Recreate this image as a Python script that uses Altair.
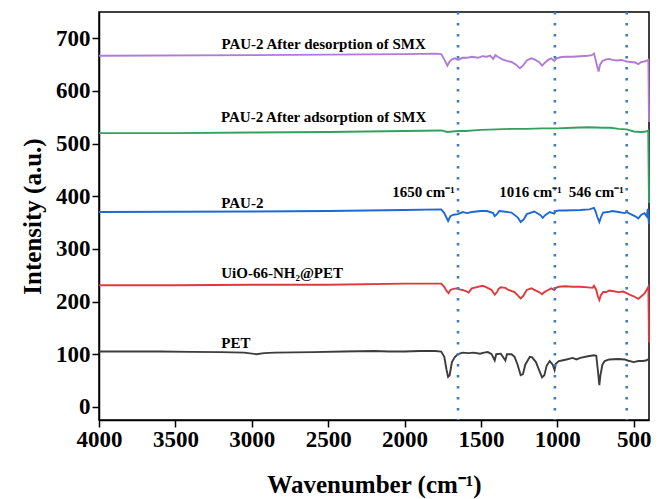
import altair as alt
import pandas as pd

# ---------------- data ----------------
wn_pet = [4000, 3800, 3600, 3400, 3200, 3050, 2970, 2920, 2850, 2600, 2400, 2200, 2100, 2000, 1900, 1800,
          1760, 1740, 1725, 1715, 1705, 1690, 1670, 1650, 1620, 1580, 1550, 1505, 1480, 1455, 1430, 1410,
          1400, 1370, 1340, 1330, 1300, 1280, 1260, 1240, 1225, 1210, 1180, 1165, 1140, 1120, 1100, 1085,
          1070, 1050, 1030, 1018, 1010, 990, 970, 940, 900, 875, 850, 800, 760, 745, 735, 725, 718, 705,
          690, 660, 600, 560, 540, 500, 470, 440, 420, 400]
int_pet = [105, 105, 105, 104.5, 104, 103, 100, 102, 103, 104, 105, 106, 105, 105, 106, 106,
           105, 95, 70, 57, 60, 85, 95, 100, 103, 102, 103, 101, 103, 104, 100, 88,
           100, 101, 88, 100, 100, 95, 80, 60, 62, 80, 95, 94, 85, 70, 56, 60,
           78, 87, 80, 70, 82, 87, 88, 90, 93, 90, 93, 96, 98, 97, 70, 41, 60, 80,
           87, 90, 91, 90, 88, 85, 87, 87, 88, 91]

wn_uio = [4000, 3500, 3000, 2500, 2000, 1760, 1740, 1725, 1712, 1700, 1680, 1660, 1640, 1620, 1600, 1580,
          1560, 1520, 1490, 1470, 1450, 1430, 1410, 1395, 1385, 1370, 1340, 1320, 1280, 1250, 1240, 1225,
          1200, 1170, 1150, 1120, 1100, 1085, 1060, 1040, 1020, 1010, 990, 950, 900, 850, 800, 770, 760,
          745, 735, 725, 715, 700, 680, 660, 640, 600, 570, 546, 520, 500, 470, 450, 430, 410, 404, 400]
int_uio = [231, 231, 232, 232, 234, 234, 228, 220, 216, 222, 224, 225, 223, 222, 220, 217,
           225, 228, 230, 228, 225, 222, 213, 218, 224, 227, 226, 222, 218, 209, 206, 210,
           222, 225, 222, 218, 214, 218, 222, 225, 222, 226, 228, 229, 228, 228, 227, 226, 230,
           222, 210, 203, 212, 218, 218, 221, 220, 218, 219, 216, 212, 210, 205, 210, 215, 225, 228, 122]

wn_pau = [4000, 3000, 2500, 2000, 1760, 1740, 1715, 1700, 1680, 1650, 1620, 1590, 1560, 1500, 1460, 1420,
          1410, 1395, 1380, 1350, 1300, 1260, 1240, 1220, 1200, 1150, 1110, 1095, 1080, 1050, 1020, 1010,
          990, 950, 850, 790, 760, 748, 740, 725, 712, 700, 670, 640, 600, 560, 546, 520, 490, 470, 450,
          430, 415, 408, 404, 400]
int_pau = [370, 371, 372, 374, 375, 368, 353, 362, 365, 366, 370, 368, 370, 372, 372, 368,
           362, 366, 372, 371, 369, 360, 351, 356, 366, 371, 364, 359, 364, 370, 367, 372,
           373, 373, 374, 375, 378, 370, 362, 351, 362, 369, 370, 372, 370, 368, 370, 366, 362, 358, 365,
           368, 362, 376, 360, 347]

wn_ads = [4000, 3500, 3000, 2500, 2000, 1760, 1720, 1650, 1600, 1500, 1400, 1300, 1200, 1100, 1000, 900,
          800, 700, 650, 600, 546, 500, 450, 420, 405, 400]
int_ads = [520, 520, 521, 522, 524, 525, 522, 524, 524, 526, 527, 528, 528, 529, 529, 530,
           531, 530, 530, 528, 527, 523, 522, 523, 525, 387]

wn_des = [4000, 3000, 2500, 2000, 1800, 1760, 1740, 1720, 1705, 1690, 1670, 1650, 1620, 1590, 1560, 1520,
          1490, 1460, 1440, 1420, 1405, 1390, 1360, 1330, 1300, 1270, 1245, 1225, 1200, 1170, 1150, 1120,
          1100, 1080, 1060, 1040, 1020, 1005, 980, 950, 900, 850, 800, 775, 760, 750, 740, 730, 720, 705,
          680, 660, 640, 610, 580, 560, 546, 520, 490, 470, 450, 430, 410, 404, 400]
int_des = [667, 668, 669, 670, 671, 670, 660, 648, 656, 660, 662, 659, 663, 663, 665, 663,
           666, 665, 667, 661, 668, 665, 660, 657, 655, 650, 643, 648, 658, 662, 660, 655,
           648, 654, 659, 662, 657, 662, 664, 665, 665, 666, 667, 668, 671, 660, 648, 637, 650, 657,
           660, 661, 659, 658, 659, 657, 656, 655, 654, 651, 655, 656, 658, 659, 541]

series_names = ["PET", "UiO-66-NH2@PET", "PAU-2", "PAU-2 ads", "PAU-2 des"]
series_colors = ["#3c3c3c", "#e0383e", "#1f6ad0", "#34a060", "#b07ad8"]

peak_wn = [1650, 1016, 546]

label_text = ["PAU-2 After desorption of SMX", "PAU-2 After adsorption of SMX",
              "PAU-2", "UiO-66-NH₂@PET", "PET"]
label_wn = [2530, 2530, 3200, 3200, 3200]
label_val = [689, 550, 387, 254, 121]
label_align = ["center", "center", "left", "left", "left"]

peak_text = ["1650 cm⁻¹", "1016 cm⁻¹", "546 cm⁻¹"]
peak_text_wn = [1876, 1176, 745]
peak_text_val = [408, 408, 408]

x_ticks = [4000, 3750, 3500, 3250, 3000, 2750, 2500, 2250, 2000, 1750, 1500, 1250, 1000, 750, 500]
y_ticks = [0, 50, 100, 150, 200, 250, 300, 350, 400, 450, 500, 550, 600, 650, 700]

# ---------------- tables ----------------
rows = []
for name, w, v in zip(series_names,
                      [wn_pet, wn_uio, wn_pau, wn_ads, wn_des],
                      [int_pet, int_uio, int_pau, int_ads, int_des]):
    for i, (a, b) in enumerate(zip(w, v)):
        rows.append({"series": name, "wn": a, "val": b, "idx": i})
df = pd.DataFrame(rows)
df_peaks = pd.DataFrame({"wn": peak_wn})
df_labels = pd.DataFrame({"text": label_text, "wn": label_wn, "val": label_val, "align": label_align})
df_ptext = pd.DataFrame({"text": peak_text, "wn": peak_text_wn, "val": peak_text_val})

FONT = "Liberation Serif"
xs = alt.Scale(domain=[400, 4000], reverse=True, nice=False, zero=False)
ys = alt.Scale(domain=[-25, 750], nice=False, zero=False)

x_axis = alt.Axis(values=x_ticks, title="Wavenumber (cm⁻¹)", orient="bottom", grid=False, format="d",
                  labelExpr="datum.value % 500 === 0 ? datum.label : ''",
                  tickSize=alt.ExprRef(expr="datum.value % 500 === 0 ? 7 : 4"),
                  tickWidth=1.5, tickColor="black", domainColor="black", domainWidth=1.5,
                  labelFont=FONT, labelFontWeight="bold", labelFontSize=23, labelColor="black",
                  labelPadding=1, labelFlush=False, labelOverlap=False,
                  titleFont=FONT, titleFontWeight="bold", titleFontSize=25, titleColor="black",
                  titlePadding=21)
y_axis = alt.Axis(values=y_ticks, title="Intensity (a.u.)", orient="left", grid=False, format="d",
                  labelExpr="datum.value % 100 === 0 ? datum.label : ''",
                  tickSize=alt.ExprRef(expr="datum.value % 100 === 0 ? 7 : 4"),
                  tickWidth=1.5, tickColor="black", domainColor="black", domainWidth=1.5,
                  labelFont=FONT, labelFontWeight="bold", labelFontSize=23, labelColor="black",
                  labelPadding=2, labelFlush=False, labelOverlap=False,
                  titleFont=FONT, titleFontWeight="bold", titleFontSize=25, titleColor="black",
                  titlePadding=10)

lines = alt.Chart(df).mark_line(strokeWidth=1.9).encode(
    x=alt.X("wn:Q", scale=xs, axis=x_axis),
    y=alt.Y("val:Q", scale=ys, axis=y_axis),
    color=alt.Color("series:N", scale=alt.Scale(domain=series_names, range=series_colors), legend=None),
    detail="series:N",
    order="idx:Q",
)

rules = alt.Chart(df_peaks).mark_rule(color="#3b7dc8", strokeDash=[2.5, 8.5], strokeWidth=2.6).encode(
    x=alt.X("wn:Q", scale=xs)
)

labels_c = alt.Chart(df_labels[df_labels["align"] == "center"]).mark_text(
    font=FONT, fontWeight="bold", fontSize=15, color="black", align="center", baseline="middle"
).encode(x=alt.X("wn:Q", scale=xs), y=alt.Y("val:Q", scale=ys), text="text:N")

labels_l = alt.Chart(df_labels[df_labels["align"] == "left"]).mark_text(
    font=FONT, fontWeight="bold", fontSize=15, color="black", align="left", baseline="middle"
).encode(x=alt.X("wn:Q", scale=xs), y=alt.Y("val:Q", scale=ys), text="text:N")

ptext = alt.Chart(df_ptext).mark_text(
    font=FONT, fontWeight="bold", fontSize=15, color="black", align="center", baseline="middle"
).encode(x=alt.X("wn:Q", scale=xs), y=alt.Y("val:Q", scale=ys), text="text:N")

chart = alt.layer(lines, rules, labels_c, labels_l, ptext).properties(
    width=550, height=408,
    autosize=alt.AutoSizeParams(type="none"),
    padding={"left": 91, "top": 4, "right": 2, "bottom": 79},
    background="white",
).configure_view(stroke="black", strokeWidth=1.5)

chart.save("out.html", embed_options={"renderer": "svg", "actions": False})
